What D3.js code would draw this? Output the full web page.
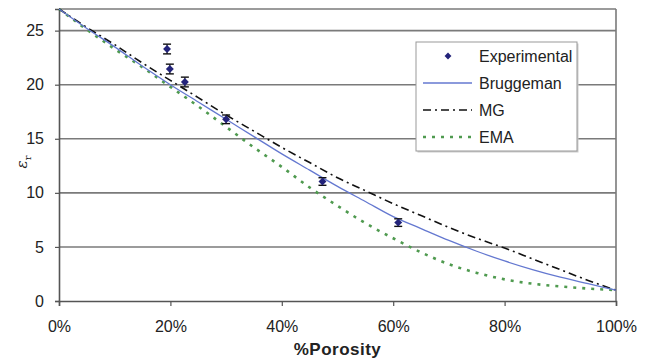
<!DOCTYPE html>
<html>
<head>
<meta charset="utf-8">
<script src="https://cdn.jsdelivr.net/npm/d3@7"></script>
<style>
  body { margin: 0; background: #fff; }
  text { font-family: "Liberation Sans", Arial, sans-serif; }
</style>
</head>
<body>
<svg id="chart" width="654" height="363"></svg>
<script>
// porosity (%) for model curves
var porosity = [0, 5, 10, 15, 20, 25, 30, 35, 40, 45, 50, 55, 60, 65, 70, 75, 80, 85, 90, 95, 100];
var bruggeman = [27, 25.2, 23.5, 21.7, 20.0, 18.4, 16.8, 15.2, 13.6, 12.1, 10.6, 9.2, 7.8, 6.7, 5.6, 4.6, 3.7, 2.9, 2.2, 1.6, 1.0];
var mg = [27, 25.3, 23.7, 22.0, 20.4, 18.8, 17.2, 15.7, 14.2, 12.8, 11.4, 10.2, 9.0, 7.9, 6.8, 5.8, 4.9, 3.9, 2.9, 1.9, 1.0];
var ema = [27, 25.1, 23.3, 21.6, 19.8, 18.0, 16.1, 14.2, 12.4, 10.5, 8.8, 7.2, 5.8, 4.5, 3.4, 2.6, 2.0, 1.6, 1.35, 1.15, 1.0];

// experimental points
var expPorosity = [19.4, 19.9, 22.6, 30.0, 47.3, 60.9];
var expValue = [23.3, 21.45, 20.25, 16.8, 11.05, 7.25];
var expError = [0.45, 0.45, 0.45, 0.4, 0.35, 0.35];

var yTicks = [0, 5, 10, 15, 20, 25];
var xTicks = [0, 20, 40, 60, 80, 100];

var svg = d3.select('#chart');
var plotLeft = 59, plotRight = 616, plotTop = 9, plotBottom = 301;

var x = d3.scaleLinear().domain([0, 100]).range([plotLeft, plotRight]);
var y = d3.scaleLinear().domain([0, 27]).range([plotBottom, plotTop]);

// grid lines
svg.append('g')
  .selectAll('line')
  .data(yTicks.filter(function (d) { return d > 0; }).concat([27]))
  .enter()
  .append('line')
  .attr('x1', plotLeft)
  .attr('x2', plotRight)
  .attr('y1', function (d) { return y(d); })
  .attr('y2', function (d) { return y(d); })
  .attr('stroke', '#7a7a7a')
  .attr('stroke-width', 1.6);

// right border
svg.append('line')
  .attr('x1', plotRight).attr('x2', plotRight)
  .attr('y1', plotTop).attr('y2', plotBottom)
  .attr('stroke', '#7a7a7a')
  .attr('stroke-width', 1.6);

// axes
var xAxis = d3.axisBottom(x)
  .tickValues(xTicks)
  .tickSize(5)
  .tickFormat(function (d) { return d + '%'; });
var gx = svg.append('g')
  .attr('transform', 'translate(0,' + plotBottom + ')')
  .call(xAxis);
gx.select('.domain').attr('stroke', '#555').attr('stroke-width', 1.6);
gx.selectAll('.tick line').attr('stroke', '#555').attr('stroke-width', 1.2);
gx.selectAll('.tick text')
  .attr('y', 20)
  .attr('font-size', 16)
  .attr('fill', '#222')
  .style('font-family', '"Liberation Sans", Arial, sans-serif');

var yAxis = d3.axisLeft(y)
  .tickValues(yTicks)
  .tickSize(4);
var gy = svg.append('g')
  .attr('transform', 'translate(' + plotLeft + ',0)')
  .call(yAxis);
gy.select('.domain').attr('stroke', '#555').attr('stroke-width', 1.6);
gy.selectAll('.tick line').attr('stroke', '#555').attr('stroke-width', 1.2);
gy.selectAll('.tick text')
  .attr('x', -15)
  .attr('font-size', 16)
  .attr('fill', '#222')
  .style('font-family', '"Liberation Sans", Arial, sans-serif');

// model curves
function curve(values) {
  return d3.line()
    .x(function (d, i) { return x(porosity[i]); })
    .y(function (d) { return y(d); })
    .curve(d3.curveMonotoneX)(values);
}

svg.append('path')
  .attr('d', curve(ema))
  .attr('fill', 'none')
  .attr('stroke', '#4f9a4f')
  .attr('stroke-width', 2.6)
  .attr('stroke-dasharray', '3,6');

svg.append('path')
  .attr('d', curve(mg))
  .attr('fill', 'none')
  .attr('stroke', '#111')
  .attr('stroke-width', 1.6)
  .attr('stroke-dasharray', '8,4,2,4');

svg.append('path')
  .attr('d', curve(bruggeman))
  .attr('fill', 'none')
  .attr('stroke', '#6478d0')
  .attr('stroke-width', 1.3);

// experimental points with error bars
var pts = svg.append('g')
  .selectAll('g')
  .data(expValue)
  .enter()
  .append('g')
  .attr('transform', function (d, i) {
    return 'translate(' + x(expPorosity[i]) + ',0)';
  });

pts.append('line')
  .attr('x1', 0).attr('x2', 0)
  .attr('y1', function (d, i) { return y(d + expError[i]); })
  .attr('y2', function (d, i) { return y(d - expError[i]); })
  .attr('stroke', '#111').attr('stroke-width', 1.2);
pts.append('line')
  .attr('x1', -4).attr('x2', 4)
  .attr('y1', function (d, i) { return y(d + expError[i]); })
  .attr('y2', function (d, i) { return y(d + expError[i]); })
  .attr('stroke', '#111').attr('stroke-width', 1.4);
pts.append('line')
  .attr('x1', -4).attr('x2', 4)
  .attr('y1', function (d, i) { return y(d - expError[i]); })
  .attr('y2', function (d, i) { return y(d - expError[i]); })
  .attr('stroke', '#111').attr('stroke-width', 1.4);
pts.append('path')
  .attr('d', d3.symbol().type(d3.symbolDiamond2).size(40))
  .attr('transform', function (d) { return 'translate(0,' + y(d) + ')'; })
  .attr('fill', '#23237a');

// legend
var lg = svg.append('g').attr('transform', 'translate(416,42)');
lg.append('rect')
  .attr('x', 1.5).attr('y', 1.5)
  .attr('width', 161).attr('height', 109)
  .attr('fill', '#ccc');
lg.append('rect')
  .attr('width', 161).attr('height', 109)
  .attr('fill', '#fff')
  .attr('stroke', '#999')
  .attr('stroke-width', 1);

var names = ['Experimental', 'Bruggeman', 'MG', 'EMA'];
var rowY = [14, 41, 68, 95];
names.forEach(function (n, i) {
  var yy = rowY[i];
  if (i === 0) {
    lg.append('path')
      .attr('d', d3.symbol().type(d3.symbolDiamond2).size(30))
      .attr('transform', 'translate(32,' + yy + ')')
      .attr('fill', '#23237a');
  } else if (i === 1) {
    lg.append('line').attr('x1', 7).attr('x2', 56).attr('y1', yy).attr('y2', yy)
      .attr('stroke', '#6478d0').attr('stroke-width', 1.3);
  } else if (i === 2) {
    lg.append('line').attr('x1', 7).attr('x2', 56).attr('y1', yy).attr('y2', yy)
      .attr('stroke', '#111').attr('stroke-width', 1.6)
      .attr('stroke-dasharray', '8,4,2,4');
  } else {
    lg.append('line').attr('x1', 7).attr('x2', 56).attr('y1', yy).attr('y2', yy)
      .attr('stroke', '#4f9a4f').attr('stroke-width', 2.6)
      .attr('stroke-dasharray', '3,6');
  }
  lg.append('text')
    .attr('x', 63).attr('y', yy + 6)
    .attr('font-size', 16)
    .attr('fill', '#222')
    .text(n);
});

// axis titles
svg.append('text')
  .attr('x', (plotLeft + plotRight) / 2)
  .attr('y', 355)
  .attr('text-anchor', 'middle')
  .attr('font-size', 17)
  .attr('font-weight', 'bold')
  .attr('letter-spacing', 0.5)
  .attr('fill', '#222')
  .text('%Porosity');

var yt = svg.append('text')
  .attr('transform', 'translate(27,162) rotate(-90)')
  .attr('text-anchor', 'middle')
  .attr('font-size', 15)
  .attr('fill', '#222');
yt.append('tspan').attr('font-style', 'italic').style('font-family', '"DejaVu Serif", serif').text('ε');
yt.append('tspan').attr('font-size', 10).attr('dy', 4).style('font-family', '"DejaVu Serif", serif').text('r');
</script>
</body>
</html>
